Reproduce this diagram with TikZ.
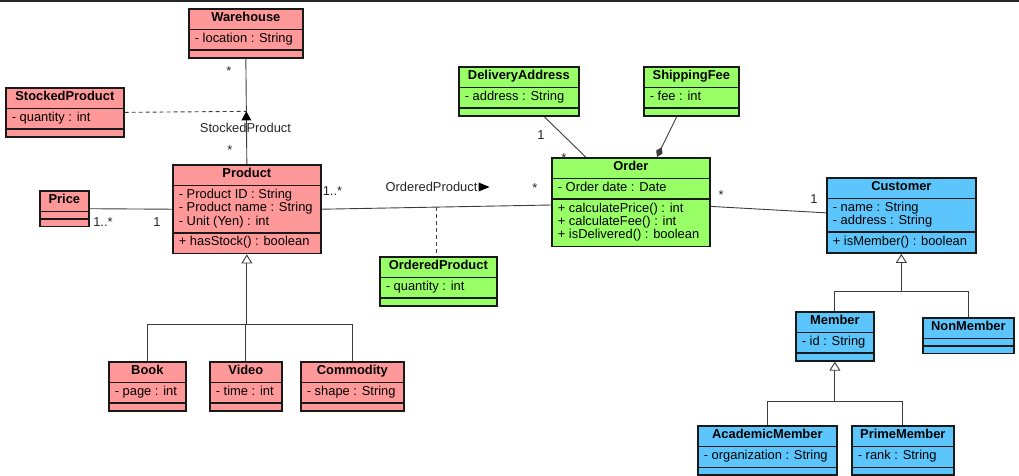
\documentclass[tikz,border=0pt]{standalone}
\usepackage{fontspec}
\setmainfont{Liberation Sans}
\usepackage{tikz}
\usetikzlibrary{arrows.meta,shapes.multipart}
\definecolor{pinkc}{RGB}{255,153,153}
\definecolor{greenc}{RGB}{153,255,102}
\definecolor{bluec}{RGB}{92,198,252}
\definecolor{linec}{RGB}{60,60,60}
\newcommand\classfont{\fontsize{12.9}{13}\selectfont}
\newcommand\lines[1]{\begin{tabular}{@{}l@{}}#1\end{tabular}}
\newcommand\nopart{\kern1pt}
\tikzstyle{umlclass}=[rectangle split, rectangle split parts=3, rectangle split part align={center,left,left}, draw=black!90, line width=1.7pt, inner xsep=6pt, inner ysep=2.9pt, anchor=north west, font=\classfont]
\tikzstyle{pinkclass}=[umlclass, fill=pinkc]
\tikzstyle{greenclass}=[umlclass, fill=greenc]
\tikzstyle{blueclass}=[umlclass, fill=bluec]
\tikzstyle{assoc}=[draw=linec, line width=0.9pt]
\tikzstyle{inherit}=[assoc, -{Triangle[length=9pt, width=11pt, fill=white]}]
\tikzstyle{compose}=[assoc, -{Diamond[length=11pt, width=7pt]}]
\tikzstyle{mult}=[font=\classfont, inner sep=0pt, text=black!85]

\begin{document}
\begin{tikzpicture}[x=1pt, y=-1pt]
	\useasboundingbox (0,0) rectangle (1019,476);
	\fill[black!85] (0,0) rectangle (1019,2.5);
	\begin{scope}
		% product side
		\node (wh) at (188,8)[pinkclass, minimum width=114pt] {\strut\textbf{Warehouse} \nodepart{two} \strut- location : String \nodepart{three} \nopart};
		\node (stp) at (5,87)[pinkclass, minimum width=118pt] {\strut\textbf{StockedProduct} \nodepart{two} \strut- quantity : int \nodepart{three} \nopart};
		\node (price) at (39,190)[pinkclass, minimum width=49pt] {\strut\textbf{Price} \nodepart{two} \nopart \nodepart{three} \nopart};
		\node (prod) at (172,164)[pinkclass, minimum width=148pt] {\strut\textbf{Product} \nodepart{two} \lines{- Product ID : String\\- Product name : String\\- Unit (Yen) : int} \nodepart{three} \strut+ hasStock() : boolean};
		\node (book) at (108,361)[pinkclass, minimum width=77pt] {\strut\textbf{Book} \nodepart{two} \strut- page : int \nodepart{three} \nopart};
		\node (vid) at (209,361)[pinkclass, minimum width=72pt] {\strut\textbf{Video} \nodepart{two} \strut- time : int \nodepart{three} \nopart};
		\node (comm) at (300,361)[pinkclass, minimum width=103pt] {\strut\textbf{Commodity} \nodepart{two} \strut- shape : String \nodepart{three} \nopart};
		% order side
		\node (op) at (379,256)[greenclass, minimum width=117pt] {\strut\textbf{OrderedProduct} \nodepart{two} \strut- quantity : int \nodepart{three} \nopart};
		\node (da) at (458,66)[greenclass, minimum width=120pt] {\strut\textbf{DeliveryAddress} \nodepart{two} \strut- address : String \nodepart{three} \nopart};
		\node (sf) at (643,66)[greenclass, minimum width=95pt] {\strut\textbf{ShippingFee} \nodepart{two} \strut- fee : int \nodepart{three} \nopart};
		\node (ord) at (551,157)[greenclass, minimum width=158pt] {\strut\textbf{Order} \nodepart{two} \strut- Order date : Date \nodepart{three} \lines{+ calculatePrice() : int\\+ calculateFee() : int\\+ isDelivered() : boolean}};
		% customer side
		\node (cust) at (826,177)[blueclass, minimum width=149pt] {\strut\textbf{Customer} \nodepart{two} \lines{- name : String\\- address : String} \nodepart{three} \strut+ isMember() : boolean};
		\node (mem) at (795,311)[blueclass, minimum width=78pt] {\strut\textbf{Member} \nodepart{two} \strut- id : String \nodepart{three} \nopart};
		\node (nonm) at (922,317)[blueclass, minimum width=91pt] {\strut\textbf{NonMember} \nodepart{two} \nopart \nodepart{three} \nopart};
		\node (acad) at (697,425)[blueclass, minimum width=139pt] {\strut\textbf{AcademicMember} \nodepart{two} \strut- organization : String \nodepart{three} \nopart};
		\node (prime) at (851,425)[blueclass, minimum width=102pt] {\strut\textbf{PrimeMember} \nodepart{two} \strut- rank : String \nodepart{three} \nopart};
	\end{scope}
	\begin{scope}
		% associations
		\draw[assoc] (wh.south) -- coordinate[pos=0.5] (stk) (prod.north);
		\fill[black] (stk) -- ++(5,9) -- ++(-10,0) -- cycle;
		\draw[assoc, dash pattern=on 4pt off 3pt] (stp.east) -- (stk);
		\path[assoc] (price.east) edge (prod.west);
		\draw[assoc] (prod.east) -- coordinate[pos=0.5] (opm) (ord.182);
		\draw[assoc, dash pattern=on 4pt off 3pt] (opm) -- (opm |- op.north);
		\path[assoc] (da.-45) edge (ord.135);
		\draw[compose] (sf.-120) -- (ord.60);
		\path[assoc] (ord.-3) edge (cust.178);
		% generalizations
		\path (prod.south) ++(0,70) coordinate (pbar);
		\draw[assoc] (book.north) |- (pbar);
		\draw[assoc] (comm.north) |- (pbar);
		\draw[assoc] (vid.north) -- (vid.north |- pbar);
		\draw[inherit] (pbar) -- (prod.south);
		\path (cust.south) ++(0,38) coordinate (cbar);
		\draw[assoc] (mem.north) |- (cbar);
		\draw[assoc] (nonm.north) |- (cbar);
		\draw[inherit] (cbar) -- (cust.south);
		\path (mem.south) ++(0,40) coordinate (mbar);
		\draw[assoc] (acad.north) |- (mbar);
		\draw[assoc] (prime.north) |- (mbar);
		\draw[inherit] (mbar) -- (mem.south);
	\end{scope}
	\begin{scope}
		% labels and multiplicities
		\node (stkname) at (245.5,128)[mult] {StockedProduct};
		\node (whmult) at (229,71)[mult] {*};
		\node (prodmult) at (230,150)[mult] {*};
		\node (pricemult) at (103,222)[mult] {1..*};
		\node (prodone) at (157,222)[mult] {1};
		\node (prodmany) at (332.5,191)[mult] {1..*};
		\node (opname) at (431.5,187)[mult] {OrderedProduct};
		\fill[black] ([xshift=1pt]opname.east) ++(0,-4.5) -- ++(11,4.5) -- ++(-11,4.5) -- cycle;
		\node (ordmult) at (535,188)[mult] {*};
		\node (daone) at (541,135)[mult] {1};
		\node (damult) at (564,158)[mult] {*};
		\node (custmult) at (721,195)[mult] {*};
		\node (custone) at (814,199)[mult] {1};
	\end{scope}
\end{tikzpicture}
\end{document}
